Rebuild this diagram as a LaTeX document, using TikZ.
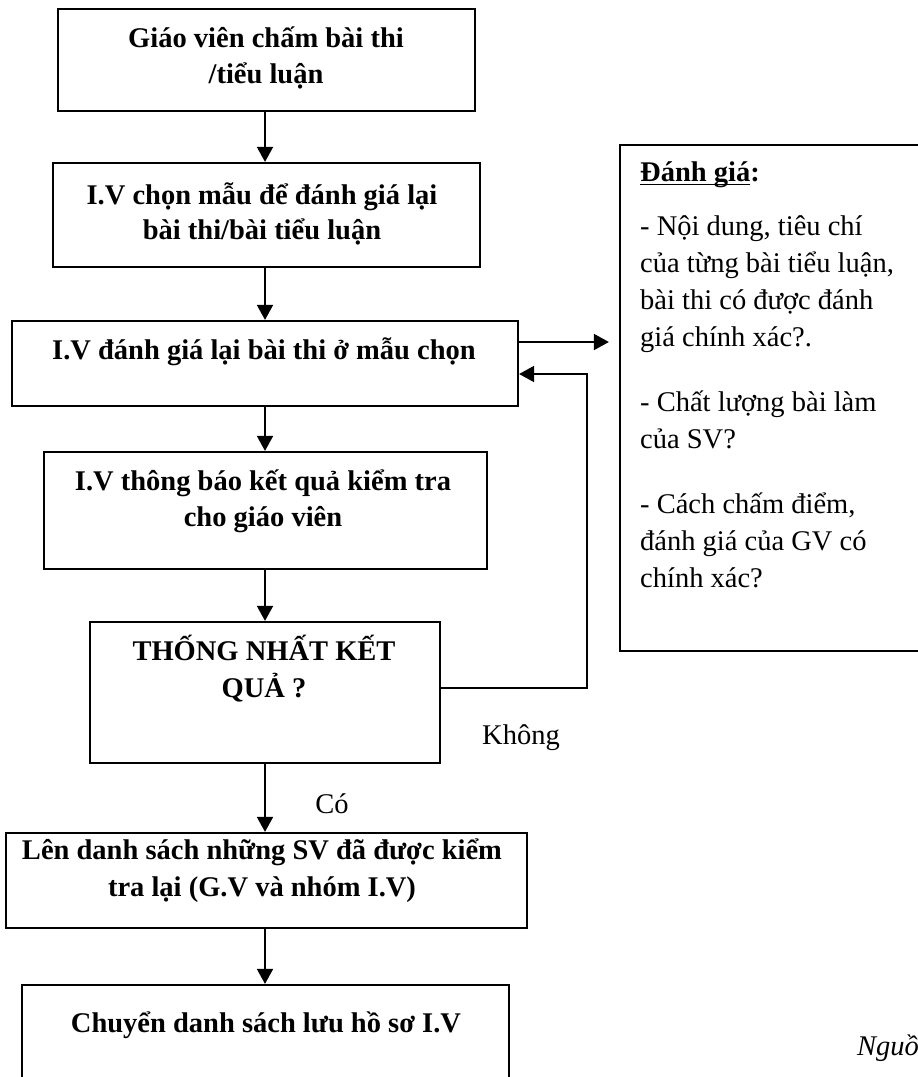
\documentclass[tikz,border=0pt]{standalone}
\usepackage{fontspec}
\setmainfont{Liberation Serif}
\usetikzlibrary{arrows.meta,calc}
\newcommand\myul[1]{\setbox0\hbox{#1}\rlap{\rule[-4pt]{\wd0}{1.5pt}}\box0}
\begin{document}
\begin{tikzpicture}[x=1pt,y=-1pt,
  box/.style={draw, line width=2.2pt, inner sep=0pt},
  lbl/.style={font=\fontsize{28.5}{34}\selectfont\bfseries, align=center, inner sep=0pt, anchor=base},
  plain/.style={font=\fontsize{28.5}{37}\selectfont, inner sep=0pt, anchor=base},
  arr/.style={line width=1.8pt, -{Triangle[length=15pt,width=16pt]}}]
\fill[white] (0,0) rectangle (918,1077);
\useasboundingbox (0,0) rectangle (918,1077);

% boxes
\node[box, minimum width=417pt, minimum height=102pt] (b1) at (266.5,60) {};
\node[box, minimum width=427pt, minimum height=104pt] (b2) at (266.5,215) {};
\node[box, minimum width=506pt, minimum height=85pt]  (b3) at (265,363.5) {};
\node[box, minimum width=443pt, minimum height=117pt] (b4) at (265.5,510.5) {};
\node[box, minimum width=350pt, minimum height=141pt] (b5) at (265,692.5) {};
\node[box, minimum width=521pt, minimum height=95pt]  (b6) at (266.5,880.5) {};
\node[box, minimum width=487pt, minimum height=105pt] (b7) at (265.5,1037.5) {};
\node[box, minimum width=320pt, minimum height=506pt] (rb) at (780,398) {};

% box texts (base anchor = baseline of last line)
\node[lbl, font=\fontsize{28.5}{36}\selectfont\bfseries] (t1) at (266,83) {Giáo viên chấm bài thi\\/tiểu luận};
\node[lbl, font=\fontsize{28.5}{35}\selectfont\bfseries] (t2) at (262,239) {I.V chọn mẫu để đánh giá lại\\bài thi/bài tiểu luận};
\node[lbl] (t3) at (264,359) {I.V đánh giá lại bài thi ở mẫu chọn};
\node[lbl, font=\fontsize{28.5}{36}\selectfont\bfseries] (t4) at (263,526) {I.V thông báo kết quả kiểm tra\\cho giáo viên};
\node[lbl, font=\fontsize{28.5}{37}\selectfont\bfseries] (t5) at (264,697) {THỐNG NHẤT KẾT\\QUẢ ?};
\node[lbl, font=\fontsize{28.5}{37}\selectfont\bfseries] (t6) at (262,896) {Lên danh sách những SV đã được kiểm\\tra lại (G.V và nhóm I.V)};
\node[lbl] (t7) at (266,1032) {Chuyển danh sách lưu hồ sơ I.V};

% right box text
\node[font=\fontsize{28.5}{37}\selectfont, text width=285pt, align=flush left, inner sep=0pt, anchor=base west] (rt) at (640,181)
  {\textbf{\myul{Đánh giá}:}\\[17pt]
   - Nội dung, tiêu chí\\
   của từng bài tiểu luận,\\
   bài thi có được đánh\\
   giá chính xác?.\\[28pt]
   - Chất lượng bài làm\\
   của SV?\\[28pt]
   - Cách chấm điểm,\\
   đánh giá của GV có\\
   chính xác?};

% connectors
\coordinate (ax) at (265,0);
\draw[arr] (b1.south -| ax) -- (b2.north -| ax);
\draw[arr] (b2.south -| ax) -- (b3.north -| ax);
\draw[arr] (b3.south -| ax) -- (b4.north -| ax);
\draw[arr] (b4.south -| ax) -- (b5.north -| ax);
\draw[arr] (b5.south -| ax) -- (b6.north -| ax);
\draw[arr] (b6.south -| ax) -- (b7.north -| ax);

\coordinate (p1) at ([yshift=21.5pt]b3.east);
\draw[arr] (p1) -- ([xshift=-10pt]p1 -| rb.west);

\coordinate (q1) at ([yshift=4.5pt]b5.east);
\coordinate (q2) at ([yshift=-10.5pt]b3.east);
\coordinate (lx) at (587,0);
\draw[arr] (q1) -- (q1 -| lx) -- (q2 -| lx) -- (q2);

% labels
\node[plain] (khong) at (521,744) {Không};
\node[plain] (co) at (332,813) {Có};
\node[plain, anchor=base west, font=\fontsize{28.5}{37}\selectfont\itshape] (src) at (857,1055) {Nguồ};
\end{tikzpicture}
\end{document}
